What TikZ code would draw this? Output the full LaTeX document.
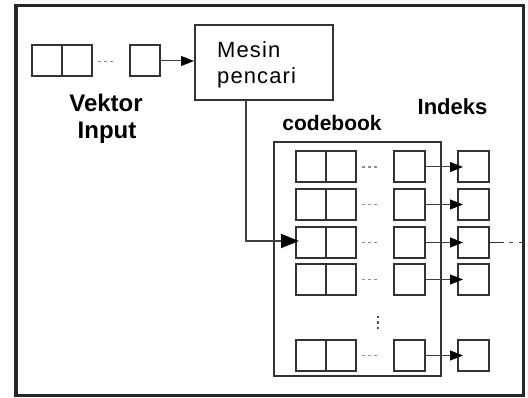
\documentclass[tikz,border=0pt]{standalone}
\usepackage{fontspec}
\setmainfont{Liberation Sans}
\usetikzlibrary{arrows.meta}
\tikzset{
  x=1pt,y=-1pt,
  cell/.style={draw=black!80,line width=2pt,fill=white,minimum width=#1,minimum height=31pt,inner sep=0pt,outer sep=0pt,anchor=north west},
  cell/.default=30pt,
  link/.style={draw=black!75,line width=1pt,-{Triangle[length=13pt,width=10pt,black]}},
  bigtitle/.style={font=\fontsize{#1}{25}\selectfont\bfseries,align=center,inner sep=0pt},
  plain/.style={font=\fontsize{22}{26}\selectfont\addfontfeature{LetterSpace=5},align=left,inner sep=0pt},
  dotsh/.style={draw=black!45,line width=1.8pt,dash pattern=on 2.5pt off 3.5pt},
  dotsv/.style={draw=black!70,line width=1.8pt,dash pattern=on 2.5pt off 3pt},
}
\begin{document}
\begin{tikzpicture}
\useasboundingbox (0,0) rectangle (528,398);
\fill[white] (0,0) rectangle (528,398);
\node[draw=black!85,line width=3.6pt,minimum width=507.5pt,minimum height=390pt,inner sep=0pt,outer sep=0pt,anchor=north west] (frame) at (16,5.5) {};
% input vector
\node[cell] (i1) at (32,45.5) {};
\node[cell] (i2) at (62,45.5) {};
\node[cell] (in) at (130,45.5) {};
\coordinate (id1) at (98,61.5); \coordinate (id2) at (114,61.5);
\draw[dotsh] (id1) -- (id2);
\node[draw=black!80,line width=2pt,minimum width=138pt,minimum height=75pt,inner sep=0pt,outer sep=0pt,anchor=north west] (m) at (194.5,25) {};
\node[plain,anchor=west] (mt) at (217,65) {Mesin\\pencari};
\coordinate (mi) at (194,61);
\draw[link] (in.east) -- (mi);
\node[bigtitle=24] (v) at (106,103) {Vektor};
\node[bigtitle=24] (ip) at (107,133) {Input};
\node[bigtitle=21] (cb) at (332,123) {codebook};
\node[bigtitle=22] (ix) at (452.5,107) {Indeks};
% codebook
\node[draw=black!80,line width=2pt,minimum width=167pt,minimum height=234pt,inner sep=0pt,outer sep=0pt,anchor=north west] (c) at (274,142) {};
\foreach \n/\y in {a/151.5,b/189,c/227,d/264,e/340}{
  \node[cell] (\n1) at (296,\y) {};
  \node[cell] (\n2) at (326,\y) {};
  \node[cell=31pt] (\n3) at (394,\y) {};
  \node[cell=31pt] (\n4) at (458,\y) {};
  \coordinate (\n d1) at (362,\y+15.5);
  \coordinate (\n d2) at (378,\y+15.5);
  \draw[dotsh] (\n d1) -- (\n d2);
  \coordinate (\n t) at ([xshift=5pt]\n4.west);
  \draw[link] (\n3.east) -- (\n t);
}
\coordinate (vd1) at (378,316); \coordinate (vd2) at (378,331);
\draw[dotsv] (vd1) -- (vd2);
\coordinate (t) at (299,241);
\coordinate (mb) at (246,100);
\coordinate (bend) at (246,241);
\draw[draw=black!75,line width=1.6pt,-{Triangle[length=18pt,width=14pt,black]}] (mb) -- (bend) -- (t);
\coordinate (e1) at (504,242.5); \coordinate (e2) at (509,242.5); \coordinate (e3) at (522,242.5);
\draw[black!80,line width=1.2pt] (c4.east) -- (e1);
\draw[black!70,line width=1.3pt,dash pattern=on 4pt off 6pt] (e2) -- (e3);
\end{tikzpicture}
\end{document}
